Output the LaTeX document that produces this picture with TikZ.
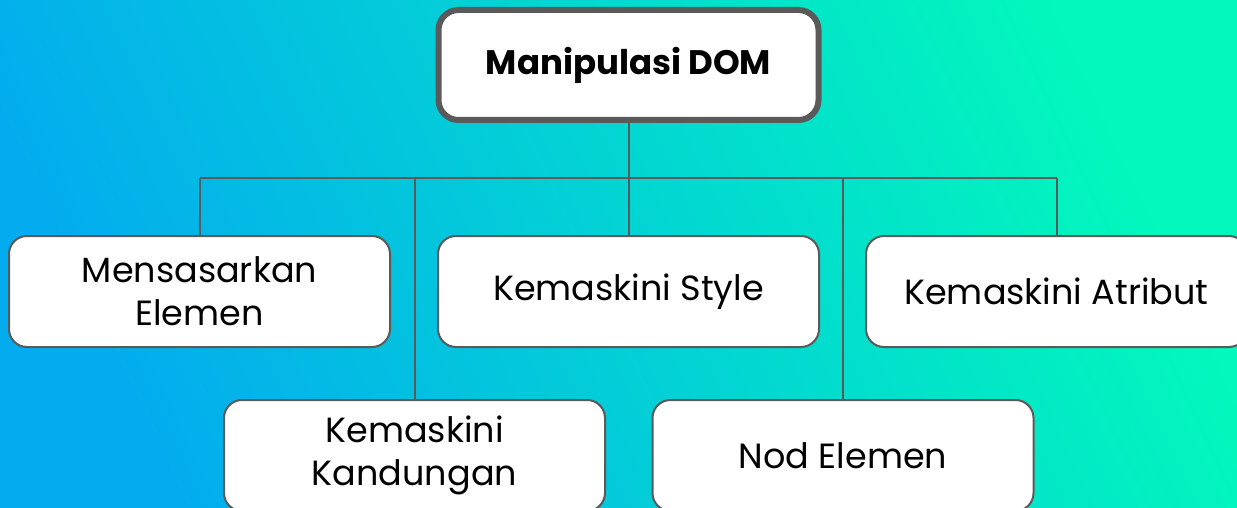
\documentclass[tikz,border=0pt]{standalone}
\usepackage{fontspec}
\setmainfont{Poppins}
\definecolor{bgA}{RGB}{3,172,238}
\definecolor{bgB}{RGB}{2,248,188}
\definecolor{edge}{RGB}{90,90,90}
\tikzset{
  leaf/.style={draw=edge, line width=2pt, fill=white, rounded corners=18pt,
    minimum width=381pt, minimum height=111pt, align=center, font=\fontsize{35}{43}\selectfont, inner sep=0pt},
  rootbox/.style={draw=edge, line width=6pt, fill=white, rounded corners=20pt,
    minimum width=380pt, minimum height=110pt, align=center, font=\fontsize{34}{40}\selectfont\bfseries, inner sep=0pt},
  link/.style={draw=edge, line width=2pt}
}
\begin{document}
\begin{tikzpicture}[x=1pt,y=-1pt]
\useasboundingbox (0,0) rectangle (1237,508);
\clip (0,0) rectangle (1237,508);
\shade[top color=bgA, bottom color=bgB, shading angle=115] (0,0) rectangle (1237,508);
\node[rootbox] (root) at (628.5,65) {Manipulasi DOM};
\node[leaf] (m) at (199.5,291.5) {Mensasarkan\\Elemen};
\node[leaf] (s) at (628.5,291.5) {Kemaskini Style};
\node[leaf] (a) at (1056.5,291.5) {Kemaskini Atribut};
\node[leaf] (k) at (414.5,455.5) {Kemaskini\\Kandungan};
\node[leaf] (n) at (843,455.5) {Nod Elemen};
\coordinate (hub) at (628.5,178);
\coordinate (hl) at (200,178);
\coordinate (hr) at (1057,178);
\coordinate (hk) at (414.5,178);
\coordinate (hn) at (843,178);
\draw[link] (root.south) -- (hub);
\draw[link] (hl) -- (hr);
\draw[link] (hl) -- (m.north -| hl);
\draw[link] (hub) -- (s.north);
\draw[link] (hr) -- (a.north -| hr);
\draw[link] (hk) -- (k.north);
\draw[link] (hn) -- (n.north);
\end{tikzpicture}
\end{document}
